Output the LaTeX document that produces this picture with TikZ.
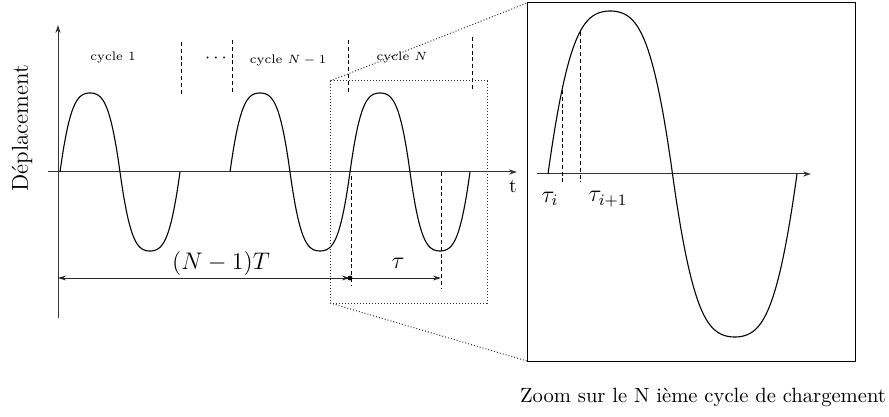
\documentclass[tikz,border=0pt]{standalone}
\usetikzlibrary{arrows.meta}
\begin{document}
\begin{tikzpicture}[x=0.5pt,y=-0.5pt,
  declare function={wf(\s)=\s*(1+0.75*(1-abs(\s)));},
  curve/.style={line width=0.55pt, black},
  axisline/.style={line width=0.5pt, black!80, -{Stealth[length=4pt,width=2.6pt]}},
  guide/.style={line width=0.5pt, dash pattern=on 2pt off 1.4pt},
  zoomline/.style={line width=0.5pt, black!80, dash pattern=on 0.5pt off 1pt},
  dimline/.style={line width=0.5pt, black!85},
  cyc/.style={font=\fontsize{6.2}{7}\selectfont, inner sep=0pt},
  mathlbl/.style={font=\fontsize{12}{14}\selectfont, inner sep=0pt},
  txt/.style={font=\fontsize{10}{12}\selectfont, inner sep=0pt}]
\useasboundingbox (0,0) rectangle (889,417);

% axes
\coordinate (yb) at (58,318); \coordinate (yt) at (58,25);
\coordinate (xl) at (48,172); \coordinate (xr) at (517,172);
\draw[axisline] (yb) -- (yt);
\draw[axisline] (xl) -- (xr);
\node[txt] (tl) at (513,186) {t};
\node[font=\fontsize{11.5}{13}\selectfont, rotate=90, inner sep=0pt] (ylab) at (22,128) {Déplacement};

% waves
\draw[curve] plot[domain=60:180,samples=121] (\x,{172-79*wf(sin(3*(\x-60)))});
\draw[curve] plot[domain=230:470,samples=241] (\x,{172-79*wf(sin(3*(\x-230)))});

% top dashed separators
\coordinate (s1a) at (181,42); \coordinate (s1b) at (181,96);
\coordinate (s2a) at (232,40); \coordinate (s2b) at (232,93);
\coordinate (s3a) at (348,40); \coordinate (s3b) at (348,93);
\coordinate (s4a) at (472,37); \coordinate (s4b) at (472,91);
\draw[guide] (s1a) -- (s1b);
\draw[guide] (s2a) -- (s2b);
\draw[guide] (s3a) -- (s3b);
\draw[guide] (s4a) -- (s4b);

\node[cyc] (c1) at (113,57) {cycle 1};
\node[font=\fontsize{9}{10}\selectfont, inner sep=0pt] (dots) at (216,58) {$\cdots$};
\node[cyc] (cN1) at (288,60) {cycle $N-1$};
\node[cyc] (cN) at (402,57) {cycle $N$};

% dimension
\coordinate (dL) at (58,278); \coordinate (dM) at (350,278); \coordinate (dR) at (441,278);
\draw[dimline, {Stealth[length=4pt,width=2.4pt]}-{Stealth[length=4pt,width=2.4pt]}] (dL) -- (dM);
\draw[dimline, -{Stealth[length=4pt,width=2.4pt]}] (dM) -- (dR);
\fill (dM) circle (1.2pt);
\coordinate (v1a) at (351,176); \coordinate (v1b) at (351,286);
\coordinate (v2a) at (441,172); \coordinate (v2b) at (441,288);
\draw[guide] (v1a) -- (v1b);
\draw[guide] (v2a) -- (v2b);
\node[mathlbl] (NT) at (221,263) {$(N-1)T$};
\node[mathlbl] (tau) at (398,263) {$\tau$};

% zoom region
\coordinate (rA) at (330,81); \coordinate (rB) at (487,303);
\draw[zoomline] (rA) rectangle (rB);
\coordinate (zA) at (527,3); \coordinate (zB) at (855,361);
\coordinate (rBL) at (330,303); \coordinate (zBL) at (527,361);
\draw[line width=0.5pt] (zA) rectangle (zB);
\draw[zoomline] (rA) -- (zA);
\draw[zoomline] (rBL) -- (zBL);

% zoomed cycle
\coordinate (zxl) at (537,174); \coordinate (zxr) at (811,174);
\draw[axisline] (zxl) -- (zxr);
\draw[curve] plot[domain=548:797,samples=200] (\x,{174-163*wf(sin(1.44578*(\x-548)))});
\coordinate (d1a) at (562,{174-163*wf(sin(1.44578*14))}); \coordinate (d1b) at (562,182);
\coordinate (d2a) at (580,{174-163*wf(sin(1.44578*32))}); \coordinate (d2b) at (580,182);
\draw[guide] (d1a) -- (d1b);
\draw[guide] (d2a) -- (d2b);
\node[mathlbl] (ti) at (550,199) {$\tau_i$};
\node[mathlbl] (tip) at (608,199) {$\tau_{i+1}$};

\node[txt, font=\fontsize{10.3}{12}\selectfont] (cap) at (703,397) {Zoom sur le N ième cycle de chargement};
\end{tikzpicture}
\end{document}
